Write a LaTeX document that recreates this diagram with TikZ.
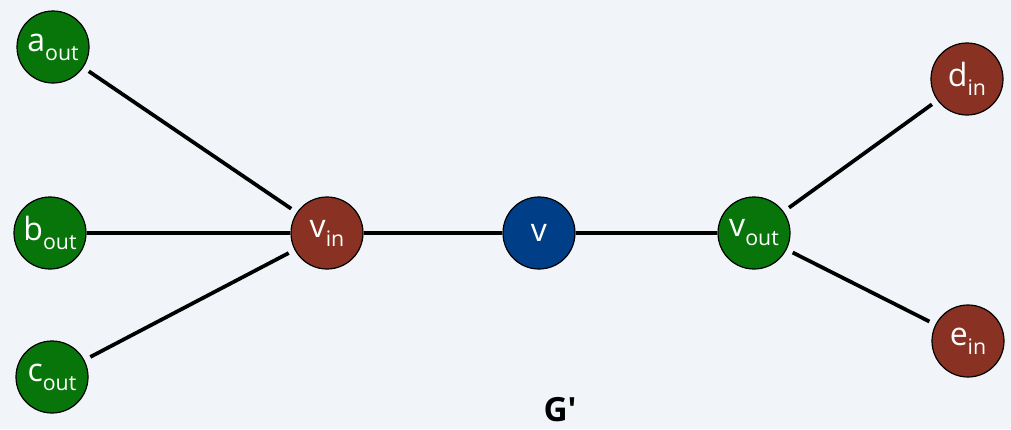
\documentclass[tikz,border=0pt]{standalone}
\usepackage{fontspec}
\setmainfont{Open Sans}
\definecolor{bgc}{RGB}{241,245,249}
\definecolor{ngreen}{RGB}{8,117,10}
\definecolor{nred}{RGB}{137,50,36}
\definecolor{nblue}{RGB}{0,63,135}
\newcommand\lblsub[2]{#1\raisebox{-0.28em}{\fontsize{16}{16}\selectfont #2}}
\tikzset{
  vtx/.style={circle, draw=black, line width=0.9pt, minimum size=54pt, inner sep=0pt,
    text=white, font=\fontsize{24}{24}\selectfont},
  gnode/.style={vtx, fill=ngreen},
  rnode/.style={vtx, fill=nred},
  bnode/.style={vtx, fill=nblue},
  edge/.style={line width=2.8pt, black},
  dedge/.style={edge, shorten <=5pt, shorten >=5pt}
}
\begin{document}
\begin{tikzpicture}[x=0.75pt,y=-0.75pt]
\fill[bgc] (0,0) rectangle (1011,429);
\useasboundingbox (0,0) rectangle (1011,429);
\node[gnode] (a) at (53,47) {\lblsub{a}{out}};
\node[gnode] (b) at (50,233) {\lblsub{b}{out}};
\node[gnode] (c) at (52,377) {\lblsub{c}{out}};
\node[rnode] (vin) at (327,233) {\lblsub{v}{in}};
\node[bnode] (v) at (539,233) {v};
\node[gnode] (vout) at (754,233) {\lblsub{v}{out}};
\node[rnode] (d) at (967,79) {\lblsub{d}{in}};
\node[rnode] (e) at (968,341) {\lblsub{e}{in}};
\draw[dedge] (a) -- (vin);
\draw[edge] (b) -- (vin);
\draw[dedge] (c) -- (vin);
\draw[edge] (vin) -- (v);
\draw[edge] (v) -- (vout);
\draw[dedge] (vout) -- (d);
\draw[dedge] (vout) -- (e);
\node[font=\bfseries\fontsize{25}{25}\selectfont] (g) at (560,410) {G\textquotesingle};
\end{tikzpicture}
\end{document}
